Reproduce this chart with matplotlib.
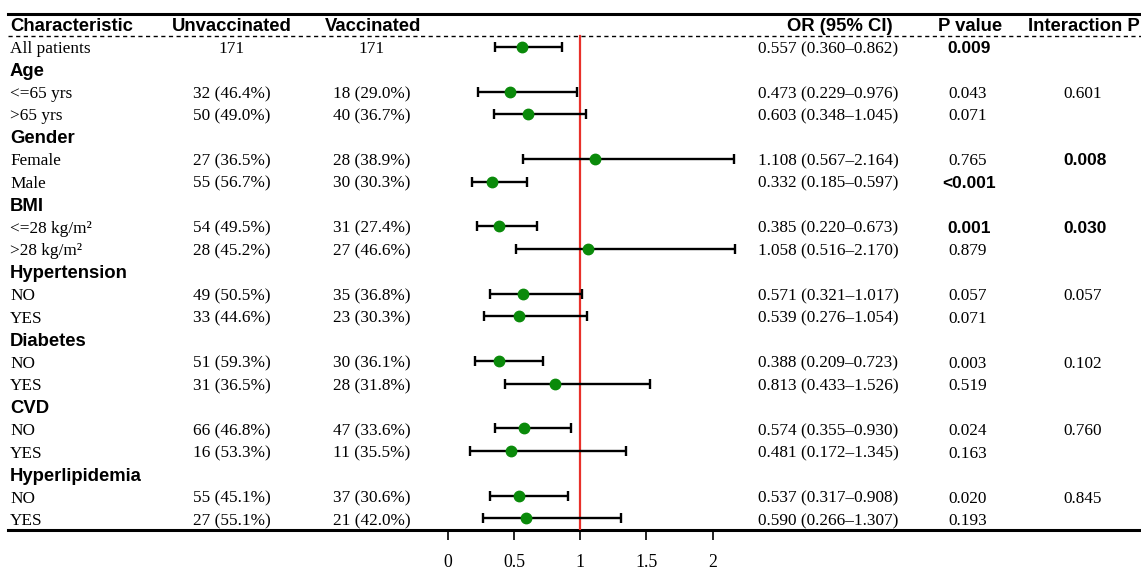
import matplotlib.pyplot as plt

labels = ['All patients', 'Age', '<=65 yrs', '>65 yrs', 'Gender', 'Female', 'Male',
          'BMI', '<=28 kg/m²', '>28 kg/m²', 'Hypertension', 'NO', 'YES',
          'Diabetes', 'NO', 'YES', 'CVD', 'NO', 'YES', 'Hyperlipidemia', 'NO', 'YES']
is_group = [False, True, False, False, True, False, False, True, False, False, True,
            False, False, True, False, False, True, False, False, True, False, False]
unvacc = ['171', '', '32 (46.4%)', '50 (49.0%)', '', '27 (36.5%)', '55 (56.7%)',
          '', '54 (49.5%)', '28 (45.2%)', '', '49 (50.5%)', '33 (44.6%)',
          '', '51 (59.3%)', '31 (36.5%)', '', '66 (46.8%)', '16 (53.3%)',
          '', '55 (45.1%)', '27 (55.1%)']
vacc = ['171', '', '18 (29.0%)', '40 (36.7%)', '', '28 (38.9%)', '30 (30.3%)',
        '', '31 (27.4%)', '27 (46.6%)', '', '35 (36.8%)', '23 (30.3%)',
        '', '30 (36.1%)', '28 (31.8%)', '', '47 (33.6%)', '11 (35.5%)',
        '', '37 (30.6%)', '21 (42.0%)']
odds = [0.557, None, 0.473, 0.603, None, 1.108, 0.332, None, 0.385, 1.058, None,
        0.571, 0.539, None, 0.388, 0.813, None, 0.574, 0.481, None, 0.537, 0.590]
lower = [0.360, None, 0.229, 0.348, None, 0.567, 0.185, None, 0.220, 0.516, None,
         0.321, 0.276, None, 0.209, 0.433, None, 0.355, 0.172, None, 0.317, 0.266]
upper = [0.862, None, 0.976, 1.045, None, 2.164, 0.597, None, 0.673, 2.170, None,
         1.017, 1.054, None, 0.723, 1.526, None, 0.930, 1.345, None, 0.908, 1.307]
pval = ['0.009', '', '0.043', '0.071', '', '0.765', '<0.001', '', '0.001', '0.879', '',
        '0.057', '0.071', '', '0.003', '0.519', '', '0.024', '0.163', '', '0.020', '0.193']
p_bold = ['0.009', '<0.001', '0.001']
pint = ['', '', '0.601', '', '', '0.008', '', '', '0.030', '', '', '0.057', '', '',
        '0.102', '', '', '0.760', '', '', '0.845', '']
pint_bold = ['0.008', '0.030']
headers = ['Characteristic', 'Unvaccinated', 'Vaccinated', 'OR (95% CI)', 'P value', 'Interaction P']
xticks = [0, 0.5, 1, 1.5, 2]

W, H = 1141, 572
serif = 'Liberation Serif'
sans = 'Liberation Sans'
fs = 12.4      # body text
fs_h = 13.3    # bold headers
fs_b = 12.5    # bold p values
va = 'center_baseline'

fig = plt.figure(figsize=(W / 100, H / 100), dpi=100)
# row index -> pixel: 47 + 22.48*i
row0, dy = 47, 22.48
ylim = ((H - row0) / dy, (0 - row0) / dy)

ax = fig.add_axes([0, 0, 1, 1])
ax.set_xlim(0, W)
ax.set_ylim(*ylim)
ax.axis('off')

# forest axes: OR 0 at px 447.7, 132.5 px per unit
x0, ppu = 447.7, 132.5
left_px, right_px = 380, 780
fa = fig.add_axes([left_px / W, (H - 529.5) / H, (right_px - left_px) / W, 529.5 / H])
fa.set_xlim((left_px - x0) / ppu, (right_px - x0) / ppu)
fa.set_ylim(21.5, ylim[1])
fa.patch.set_alpha(0)
for s in fa.spines.values():
    s.set_visible(False)
fa.set_yticks([])
fa.set_xticks(xticks)
fa.set_xticklabels([str(t) for t in xticks], fontfamily=serif, fontsize=12.8)
fa.tick_params(axis='x', length=7.5, width=1.2, pad=10, direction='out')

fa.axvline(1, ymin=0, ymax=(21.5 + 0.5) / (21.5 - ylim[1]), color='#e8302a', lw=1.6, zorder=1)
for i, o in enumerate(odds):
    if o is None:
        continue
    fa.errorbar(o, i, xerr=[[o - lower[i]], [upper[i] - o]], fmt='o', color='#0a8a0a',
                ecolor='black', elinewidth=1.7, capsize=3.6, capthick=1.7, markersize=7.5, zorder=3)

# table lines
ax.plot([8, W], [-1.47, -1.47], color='black', lw=2.2)
ax.plot([8, W], [-0.5, -0.5], color='black', lw=1, ls=(0, (3, 2.5)))
ax.plot([8, W], [21.5, 21.5], color='black', lw=2.2)

# headers
hx = [10, 232, 373, 840, 970, 1084]
ha = ['left', 'center', 'center', 'center', 'center', 'center']
for x, h, a in zip(hx, headers, ha):
    ax.text(x, -1.0, h, ha=a, va=va, fontfamily=sans, fontweight='bold', fontsize=fs_h)

for i, lab in enumerate(labels):
    if is_group[i]:
        ax.text(10, i, lab, ha='left', va=va, fontfamily=sans, fontweight='bold', fontsize=fs_h)
        continue
    ax.text(10, i, lab, ha='left', va=va, fontfamily=serif, fontsize=fs)
    ax.text(232, i, unvacc[i], ha='center', va=va, fontfamily=serif, fontsize=fs)
    ax.text(372, i, vacc[i], ha='center', va=va, fontfamily=serif, fontsize=fs)
    ax.text(828, i, f'{odds[i]:.3f} ({lower[i]:.3f}\u2013{upper[i]:.3f})',
            ha='center', va=va, fontfamily=serif, fontsize=fs)
    if pval[i] in p_bold:
        ax.text(969, i, pval[i], ha='center', va=va, fontfamily=sans, fontweight='bold', fontsize=fs_b)
    else:
        ax.text(968, i, pval[i], ha='center', va=va, fontfamily=serif, fontsize=fs)
    if pint[i] in pint_bold:
        ax.text(1085, i, pint[i], ha='center', va=va, fontfamily=sans, fontweight='bold', fontsize=fs_b)
    elif pint[i]:
        ax.text(1083, i, pint[i], ha='center', va=va, fontfamily=serif, fontsize=fs)

fig.savefig('out.png', dpi=100)
